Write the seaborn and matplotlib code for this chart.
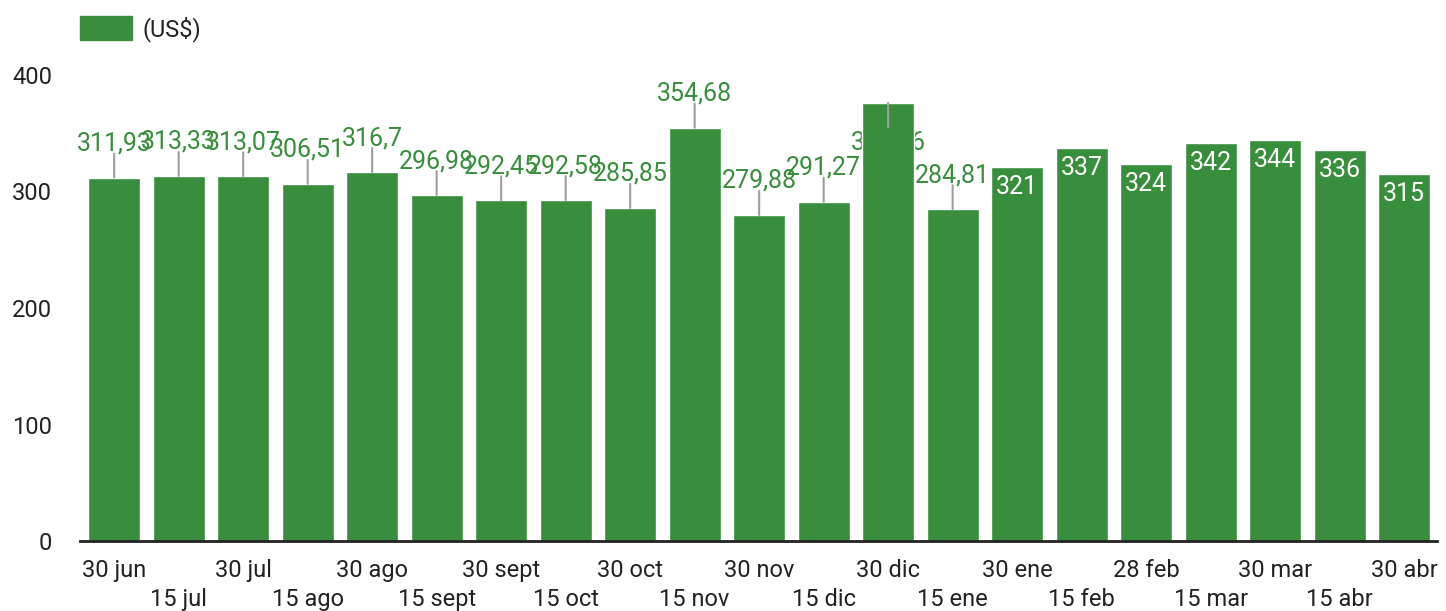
import numpy as np
import pandas as pd
import matplotlib
matplotlib.use("Agg")
import matplotlib.pyplot as plt
from matplotlib.patches import Patch
import seaborn as sns

# ------------------------------------------------------------
# data
# ------------------------------------------------------------
dates = ["30 jun", "15 jul", "30 jul", "15 ago", "30 ago", "15 sept", "30 sept",
         "15 oct", "30 oct", "15 nov", "30 nov", "15 dic", "30 dic", "15 ene",
         "30 ene", "15 feb", "28 feb", "15 mar", "30 mar", "15 abr", "30 abr"]
prices = [311.93, 313.33, 313.07, 306.51, 316.7, 296.98, 292.45,
          292.58, 285.85, 354.68, 279.88, 291.27, 375.96, 284.81,
          321, 337, 324, 342, 344, 336, 315]
y_ticks = [0, 100, 200, 300, 400]
series_name = "(US$)"

GREEN = "#388e3c"
TEXT = "#222222"
LEADER = "#9e9e9e"

df = pd.DataFrame({"fecha": dates, "precio": prices})

# ------------------------------------------------------------
# plot
# ------------------------------------------------------------
sns.set_style("white")
plt.rcParams["font.family"] = ["Roboto", "DejaVu Sans"]

fig = plt.figure(figsize=(14.46, 6.11), dpi=100)
ax = fig.add_axes([80 / 1446, 70 / 611, 1357 / 1446, 466 / 611])

sns.barplot(data=df, x="fecha", y="precio", color=GREEN, saturation=1,
            width=0.806, ax=ax, zorder=2)

ax.set_xlim(-0.53, len(dates) - 0.49)
ax.set_ylim(0, 400)
ax.set_yticks(y_ticks)
ax.set_yticklabels([str(t) for t in y_ticks], fontsize=17, color=TEXT)

ax.set_xticks(range(len(dates)))
ax.set_xticklabels([d if i % 2 == 0 else "\n" + d for i, d in enumerate(dates)],
                   fontsize=17, color=TEXT, linespacing=1.35)
ax.tick_params(axis="x", length=0, pad=13)
ax.tick_params(axis="y", length=0, pad=20)

ax.set_xlabel("")
ax.set_ylabel("")
for s in ["top", "right", "left"]:
    ax.spines[s].set_visible(False)
ax.spines["bottom"].set_color("#222222")
ax.spines["bottom"].set_linewidth(2)
ax.spines["bottom"].set_zorder(4)

# value labels
for i, v in enumerate(prices):
    lab = f"{v:g}".replace(".", ",")
    if i >= 14:
        ax.annotate(lab, xy=(i, v), xytext=(0, -8), textcoords="offset pixels",
                    ha="center", va="top", fontsize=18, color="white", zorder=5)
    elif v > 360:
        # label pushed down behind the bar, leader drawn on top
        ax.annotate("", xy=(i, v), xytext=(0, -24), textcoords="offset pixels",
                    arrowprops=dict(arrowstyle="-", color=LEADER, lw=1.5,
                                    shrinkA=0, shrinkB=0), zorder=5)
        ax.annotate(lab, xy=(i, v), xytext=(0, -27), textcoords="offset pixels",
                    ha="center", va="top", fontsize=18, color=GREEN, zorder=0.5)
    else:
        ax.annotate("", xy=(i, v), xytext=(0, 24), textcoords="offset pixels",
                    arrowprops=dict(arrowstyle="-", color=LEADER, lw=1.5,
                                    shrinkA=0, shrinkB=0), zorder=5)
        ax.annotate(lab, xy=(i, v), xytext=(0, 22), textcoords="offset pixels",
                    ha="center", va="bottom", fontsize=18, color=GREEN,
                    zorder=5, annotation_clip=False)

# legend
fig.legend(handles=[Patch(color=GREEN)], labels=[series_name],
           loc="upper left", bbox_to_anchor=(80 / 1446, 1 - 16 / 611),
           frameon=False, fontsize=17, handlelength=2.2, handleheight=1.15,
           handletextpad=0.45, borderpad=0, borderaxespad=0, labelcolor=TEXT)

fig.savefig("out.png", dpi=100)
